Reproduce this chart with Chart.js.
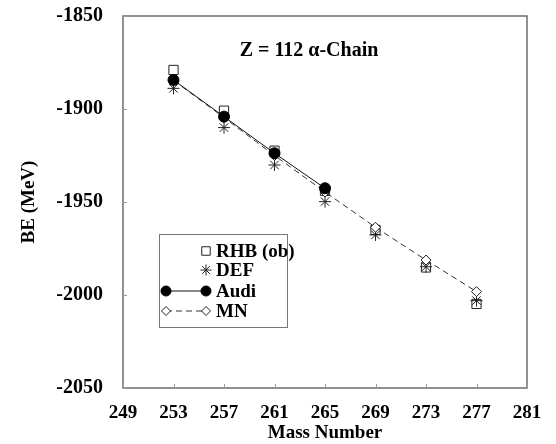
<!DOCTYPE html>
<html>
<head>
<meta charset="utf-8">
<script src="https://cdn.jsdelivr.net/npm/chart.js@4/dist/chart.umd.min.js"></script>
<style>
  html, body { margin: 0; padding: 0; background: #fff; }
  #wrap { width: 556px; height: 444px; }
</style>
</head>
<body>
<div id="wrap"><canvas id="myChart"></canvas></div>
<script>
// binding energies along the Z = 112 alpha-decay chain
const massNumbers = [253, 257, 261, 265, 269, 273, 277];
const rhbValues  = [-1879.0, -1900.9, -1922.4, -1944.0, -1965.0, -1985.2, -2004.8];
const defValues  = [-1888.9, -1910.0, -1930.1, -1949.8, -1967.7, -1984.8, -2003.0];
const audiMass   = [253, 257, 261, 265];
const audiValues = [-1884.4, -1904.1, -1923.8, -1942.6];
const mnValues   = [-1884.6, -1904.6, -1925.0, -1944.6, -1963.6, -1981.2, -1998.2];

const xTicks = [249, 253, 257, 261, 265, 269, 273, 277, 281];
const yTicks = [-2050, -2000, -1950, -1900, -1850];

const serif = "'Liberation Serif', 'Times New Roman', serif";

function pairs(xs, ys) {
    return xs.map((x, i) => ({ x: x, y: ys[i] }));
}

// "order": lower values are painted on top
const datasets = [
    {
        label: "RHB (ob)",
        order: 3,
        data: pairs(massNumbers, rhbValues),
        showLine: false,
        pointStyle: "rect",
        pointRadius: 6.5,
        pointBackgroundColor: "#fff",
        pointBorderColor: "#222",
        pointBorderWidth: 1
    },
    {
        label: "DEF",
        order: 2,
        data: pairs(massNumbers, defValues),
        showLine: false,
        pointStyle: "star",
        pointRadius: 6,
        pointBorderColor: "#222",
        pointBorderWidth: 1
    },
    {
        label: "Audi",
        order: 0,
        data: pairs(audiMass, audiValues),
        borderColor: "#111",
        borderWidth: 1,
        pointStyle: "circle",
        pointRadius: 5.5,
        pointBackgroundColor: "#000",
        pointBorderColor: "#000",
        showLine: true
    },
    {
        label: "MN",
        order: 1,
        data: pairs(massNumbers, mnValues),
        borderColor: "#333",
        borderWidth: 1,
        borderDash: [6, 4],
        pointStyle: "rectRot",
        pointRadius: 5,
        pointBackgroundColor: "#fff",
        pointBorderColor: "#222",
        pointBorderWidth: 1,
        showLine: true
    }
];

// frame, inward ticks, title and the boxed legend
const decor = {
    id: "decor",
    afterDraw(chart) {
        const ctx = chart.ctx;
        const a = chart.chartArea;
        const xs = chart.scales.x, ys = chart.scales.y;
        ctx.save();
        ctx.strokeStyle = "#6e6e6e";
        ctx.lineWidth = 1.5;
        ctx.strokeRect(a.left, a.top, a.right - a.left, a.bottom - a.top);

        ctx.lineWidth = 1;
        ctx.strokeStyle = "#999";
        yTicks.forEach(v => {
            const y = Math.round(ys.getPixelForValue(v)) + 0.5;
            ctx.beginPath(); ctx.moveTo(a.left, y); ctx.lineTo(a.left + 4, y); ctx.stroke();
        });
        xTicks.forEach(v => {
            const x = Math.round(xs.getPixelForValue(v)) + 0.5;
            ctx.beginPath(); ctx.moveTo(x, a.bottom); ctx.lineTo(x, a.bottom - 4); ctx.stroke();
        });

        ctx.fillStyle = "#000";
        ctx.font = "bold 20px " + serif;
        ctx.textAlign = "center";
        ctx.textBaseline = "middle";
        ctx.fillText("Z = 112 \u03B1-Chain", (a.left + a.right) / 2 - 16, a.top + 35);

        // legend
        const bx = a.left + 36, by = a.top + 218, bw = 128, bh = 93;
        ctx.fillStyle = "#fff";
        ctx.fillRect(bx, by, bw, bh);
        ctx.strokeStyle = "#777";
        ctx.lineWidth = 1;
        ctx.strokeRect(bx + 0.5, by + 0.5, bw, bh);

        const rowY = [17, 36, 57, 77];
        const x0 = bx + 7, x1 = bx + 47, tx = bx + 57;
        chart.data.datasets.forEach((ds, i) => {
            const y = by + rowY[i];
            if (ds.showLine) {
                ctx.save();
                ctx.strokeStyle = ds.borderColor;
                ctx.lineWidth = ds.borderWidth;
                ctx.setLineDash(ds.borderDash || []);
                ctx.beginPath(); ctx.moveTo(x0, y); ctx.lineTo(x1, y); ctx.stroke();
                ctx.restore();
            }
            const pts = ds.showLine ? [x0, x1] : [x1];
            pts.forEach(px => {
                ctx.save();
                ctx.fillStyle = ds.pointBackgroundColor || "#fff";
                ctx.strokeStyle = ds.pointBorderColor;
                ctx.lineWidth = 1;
                Chart.helpers.drawPoint(ctx, {
                    pointStyle: ds.pointStyle,
                    radius: ds.pointRadius - 0.5,
                    rotation: 0,
                    borderWidth: 1
                }, px, y);
                ctx.restore();
            });
            ctx.fillStyle = "#000";
            ctx.font = "bold 19px " + serif;
            ctx.textAlign = "left";
            ctx.fillText(ds.label, tx, y + 1);
        });
        ctx.restore();
    }
};

// invisible tick marks push the labels away from the axis without
// adding to the label overhang at the ends of the scale
const hiddenTicks = (len) => ({
    display: true,
    drawOnChartArea: false,
    drawTicks: true,
    tickLength: len,
    color: "rgba(0,0,0,0)",
    tickColor: "rgba(0,0,0,0)"
});

new Chart(document.getElementById("myChart"), {
    type: "scatter",
    data: { datasets: datasets },
    options: {
        responsive: true,
        maintainAspectRatio: false,
        animation: false,
        layout: { padding: { top: 16, right: 29, left: 0, bottom: 0 } },
        plugins: {
            legend: { display: false },
            tooltip: { enabled: false }
        },
        scales: {
            x: {
                type: "linear",
                min: 249,
                max: 281,
                afterBuildTicks(scale) { scale.ticks = xTicks.map(v => ({ value: v })); },
                afterFit(scale) { scale.height = 56; },
                grid: { display: false },
                border: { display: false },
                ticks: {
                    color: "#000",
                    padding: 6,
                    maxRotation: 0,
                    callback: v => String(v),
                    font: { family: serif, size: 19, weight: "bold" }
                },
                title: {
                    display: true,
                    text: "Mass Number",
                    color: "#000",
                    padding: { top: 0, bottom: 0 },
                    font: { family: serif, size: 19, weight: "bold" }
                }
            },
            y: {
                type: "linear",
                min: -2050,
                max: -1850,
                afterBuildTicks(scale) { scale.ticks = yTicks.map(v => ({ value: v })); },
                afterFit(scale) { scale.width = 123; },
                grid: hiddenTicks(17),
                border: { display: false },
                ticks: {
                    color: "#000",
                    padding: 3,
                    callback: v => String(v),
                    font: { family: serif, size: 20, weight: "bold" }
                },
                title: {
                    display: true,
                    text: "BE (MeV)",
                    color: "#000",
                    padding: { top: 18, bottom: 0 },
                    font: { family: serif, size: 19, weight: "bold" }
                }
            }
        }
    },
    plugins: [decor]
});
</script>
</body>
</html>
